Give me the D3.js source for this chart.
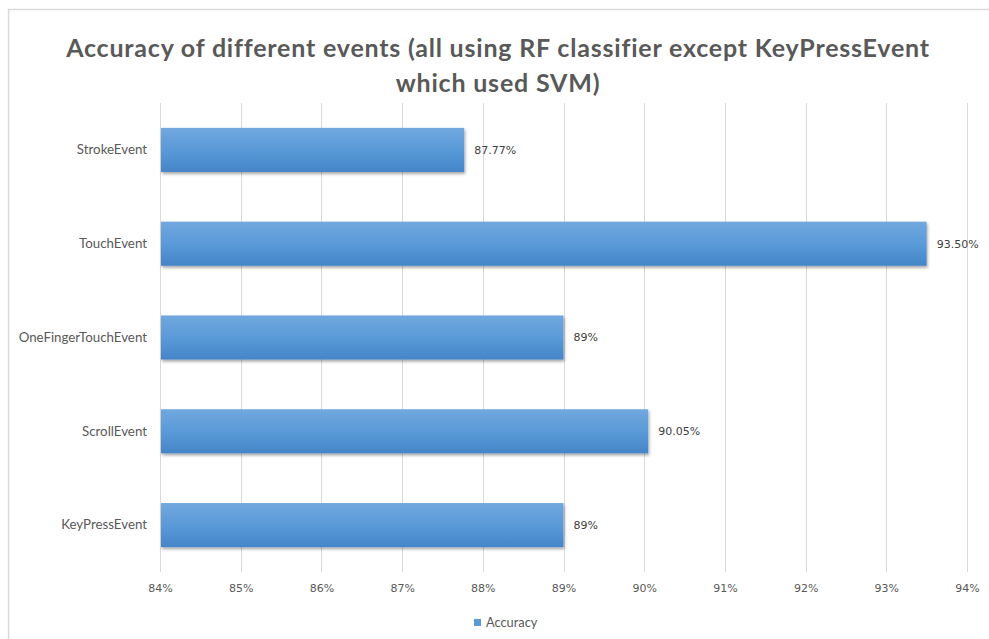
<!DOCTYPE html>
<html>
<head>
<meta charset="utf-8">
<script src="https://cdn.jsdelivr.net/npm/d3@7"></script>
<style>
  body { margin: 0; background: #fff; }
</style>
</head>
<body>
<script>
// data
var categories = ["StrokeEvent", "TouchEvent", "OneFingerTouchEvent", "ScrollEvent", "KeyPressEvent"];
var accuracy = [87.77, 93.50, 89, 90.05, 89];
var valueLabels = ["87.77%", "93.50%", "89%", "90.05%", "89%"];
var ticks = [84, 85, 86, 87, 88, 89, 90, 91, 92, 93, 94];
var titleLines = ["Accuracy of different events (all using RF classifier except KeyPressEvent", "which used SVM)"];

var W = 989, H = 639;
var svg = d3.select("body").append("svg")
            .attr("width", W)
            .attr("height", H);

var defs = svg.append("defs");
var grad = defs.append("linearGradient")
               .attr("id", "barGrad")
               .attr("x1", 0).attr("y1", 0).attr("x2", 0).attr("y2", 1);
grad.append("stop").attr("offset", "0%").attr("stop-color", "#71a8de");
grad.append("stop").attr("offset", "50%").attr("stop-color", "#5a9ad8");
grad.append("stop").attr("offset", "100%").attr("stop-color", "#4485c8");

var shadow = defs.append("filter")
                 .attr("id", "shadow")
                 .attr("x", "-5%").attr("y", "-20%")
                 .attr("width", "110%").attr("height", "150%");
shadow.append("feDropShadow")
      .attr("dx", 1).attr("dy", 2)
      .attr("stdDeviation", 1.5)
      .attr("flood-color", "#000")
      .attr("flood-opacity", 0.35);

// chart border (runs off the right and bottom)
svg.append("rect")
   .attr("x", 8.5).attr("y", 9.5)
   .attr("width", W).attr("height", H)
   .attr("fill", "none")
   .attr("stroke", "#d9d9d9")
   .attr("stroke-width", 1.5);

// scales
var x = d3.scaleLinear().domain([84, 94]).range([160, 967]);
var y = d3.scaleBand().domain(categories).range([103, 572])
          .paddingInner(0.53).paddingOuter(0.265);

// gridlines
svg.append("g").selectAll("line")
   .data(ticks)
   .enter().append("line")
   .attr("x1", function(d){ return Math.round(x(d)) + 0.5; })
   .attr("x2", function(d){ return Math.round(x(d)) + 0.5; })
   .attr("y1", 103).attr("y2", 572)
   .attr("stroke", "#d9d9d9")
   .attr("stroke-width", 1);

// x axis labels
var xAxis = d3.axisBottom(x)
              .tickValues(ticks)
              .tickSize(0)
              .tickPadding(12)
              .tickFormat(function(d){ return d + "%"; });
var gx = svg.append("g")
            .attr("transform", "translate(0,572)")
            .call(xAxis);
gx.select(".domain").remove();
gx.selectAll("text")
  .attr("fill", "#595959")
  .style("font-family", "DejaVu Sans")
  .style("font-size", "11px");

// y axis labels
var yAxis = d3.axisLeft(y).tickSize(0).tickPadding(13);
var gy = svg.append("g")
            .attr("transform", "translate(160,0)")
            .call(yAxis);
gy.select(".domain").remove();
gy.selectAll("text")
  .attr("fill", "#595959")
  .style("font-family", "Lato")
  .style("font-size", "13.3px");

// bars
var rows = categories.map(function(c, i){
    return { cat: c, val: accuracy[i], label: valueLabels[i] };
});

svg.append("g").selectAll("rect")
   .data(rows)
   .enter().append("rect")
   .attr("x", x(84) + 1)
   .attr("y", function(d){ return y(d.cat); })
   .attr("width", function(d){ return x(d.val) - x(84) - 1; })
   .attr("height", y.bandwidth())
   .attr("fill", "url(#barGrad)")
   .attr("filter", "url(#shadow)");

// value labels
svg.append("g").selectAll("text")
   .data(rows)
   .enter().append("text")
   .attr("x", function(d){ return x(d.val) + 10; })
   .attr("y", function(d){ return y(d.cat) + y.bandwidth() / 2; })
   .attr("dy", "0.35em")
   .attr("fill", "#404040")
   .style("font-family", "DejaVu Sans")
   .style("font-size", "11px")
   .text(function(d){ return d.label; });

// title
svg.append("g").selectAll("text")
   .data(titleLines)
   .enter().append("text")
   .attr("x", 498)
   .attr("y", function(d, i){ return 57 + i * 35; })
   .attr("text-anchor", "middle")
   .attr("fill", "#595959")
   .style("font-family", "Lato")
   .style("font-weight", "bold")
   .style("font-size", "25px")
   .style("letter-spacing", "0.8px")
   .text(function(d){ return d; });

// legend
svg.append("rect")
   .attr("x", 474).attr("y", 619)
   .attr("width", 7).attr("height", 7)
   .attr("fill", "#5b9bd5");
svg.append("text")
   .attr("x", 486).attr("y", 627)
   .attr("fill", "#595959")
   .style("font-family", "Lato")
   .style("font-size", "12.8px")
   .text("Accuracy");
</script>
</body>
</html>
